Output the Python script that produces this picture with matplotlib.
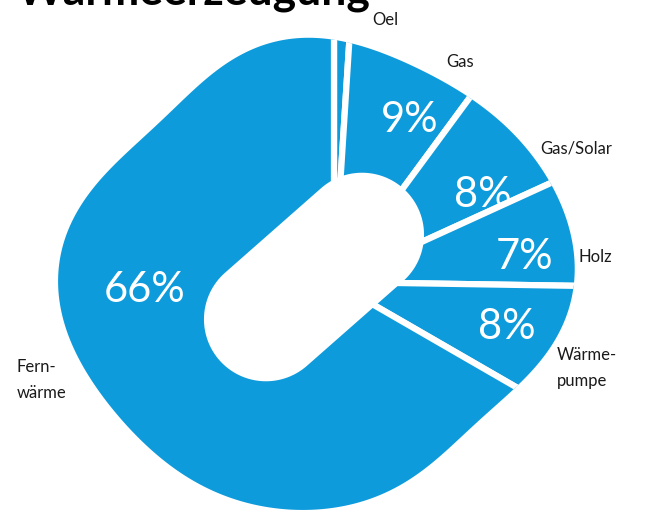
import numpy as np
import matplotlib.pyplot as plt
from matplotlib.patches import Polygon

plt.rcParams['font.family'] = ['Lato', 'DejaVu Sans']

# Daten
labels = ['Oel', 'Gas', 'Gas/Solar', 'Holz', 'Wärme-\npumpe', 'Fern-\nwärme']
values = [1, 9, 8, 7, 8, 66]
pct_labels = ['', '9%', '8%', '7%', '8%', '66%']

BLUE = '#0E9BDC'

# Layout (Pixelkoordinaten, y nach unten)
CENTER = (334, 282)   # Mittelpunkt der Segmente
# Stuetzpunkte der abgerundeten Aussenform (wird geglaettet)
OUTLINE = [(280, 40), (332, 40), (357, 45), (430, 73), (477, 107), (517, 140),
           (553, 197), (572, 207), (572, 245), (572, 283), (570, 293),
           (557, 337), (523, 380), (513, 387), (463, 420), (397, 480),
           (330, 507), (300, 510), (233, 497), (173, 470), (133, 437),
           (97, 390), (67, 347), (57, 280), (57, 263), (63, 230), (77, 203),
           (105, 175), (133, 150), (200, 80), (240, 55)]
HOLE_C, HOLE_HALF, HOLE_R = (314, 277), 64, 62
AXIS = np.array([0.75, -0.66]) / np.hypot(0.75, 0.66)
NORM = np.array([0.66, 0.75]) / np.hypot(0.75, 0.66)
pct_pos = [None, (410, 120), (483, 195), (525, 257), (507, 327), (145, 290)]
lab_pos = [(385, 20, 'center'), (460, 62, 'center'), (540, 148, 'left'),
           (578, 257, 'left'), (557, 368, 'left'), (17, 380, 'left')]


def smooth_outline(pts, c, k=6, n=500):
    # Radius als Fourier-Reihe um den Mittelpunkt
    d = np.asarray(pts, float) - c
    th = np.arctan2(-d[:, 1], d[:, 0])
    r = np.hypot(d[:, 0], d[:, 1])

    def design(t):
        cols = [np.ones_like(t)]
        for j in range(1, k + 1):
            cols += [np.cos(j * t), np.sin(j * t)]
        return np.column_stack(cols)

    X = design(th)
    reg = 2.0 * np.eye(X.shape[1])
    reg[0, 0] = 0
    coef = np.linalg.solve(X.T @ X + reg, X.T @ r)
    t = np.linspace(-np.pi, np.pi, n, endpoint=False)
    rr = design(t) @ coef
    return np.column_stack([c[0] + rr * np.cos(t), c[1] - rr * np.sin(t)])


def capsule(c, half_len, r, n=60):
    t1 = np.linspace(-np.pi / 2, np.pi / 2, n)
    t2 = np.linspace(np.pi / 2, 3 * np.pi / 2, n)
    end1 = [(half_len + r * np.cos(t), r * np.sin(t)) for t in t1]
    end2 = [(-half_len + r * np.cos(t), r * np.sin(t)) for t in t2]
    uv = np.array(end1 + end2)
    return np.array(c) + np.outer(uv[:, 0], AXIS) + np.outer(uv[:, 1], NORM)


fig = plt.figure(figsize=(6.56, 5.12), dpi=100)
ax = fig.add_axes([0, 0, 1, 1])

wedges, _ = ax.pie(values, startangle=-90, counterclock=True, center=CENTER,
                   radius=400, colors=[BLUE] * len(values),
                   wedgeprops=dict(edgecolor='white', linewidth=4.5))

outer = Polygon(smooth_outline(OUTLINE, np.array(CENTER)), closed=True,
                transform=ax.transData)
for w in wedges:
    w.set_clip_on(True)
    w.set_clip_path(outer)

# Loch in der Mitte
ax.add_patch(Polygon(capsule(HOLE_C, HOLE_HALF, HOLE_R), closed=True,
                     facecolor='white', edgecolor='none', zorder=3))

for txt, pos in zip(pct_labels, pct_pos):
    if pos:
        ax.text(pos[0], pos[1], txt, color='white', fontsize=30,
                ha='center', va='center', zorder=4)

for txt, (x, y, ha) in zip(labels, lab_pos):
    ax.text(x, y, txt, color='#1a1a1a', fontsize=12, ha=ha, va='center',
            linespacing=1.75, zorder=4)

# Titel (oben abgeschnitten)
ax.text(17, 4, 'Wärmeerzeugung', fontsize=32, fontweight='bold',
        va='baseline', ha='left', clip_on=False)

ax.set_xlim(0, 656)
ax.set_ylim(512, 0)
ax.set_aspect('equal')
ax.axis('off')

fig.savefig('out.png', dpi=100)
